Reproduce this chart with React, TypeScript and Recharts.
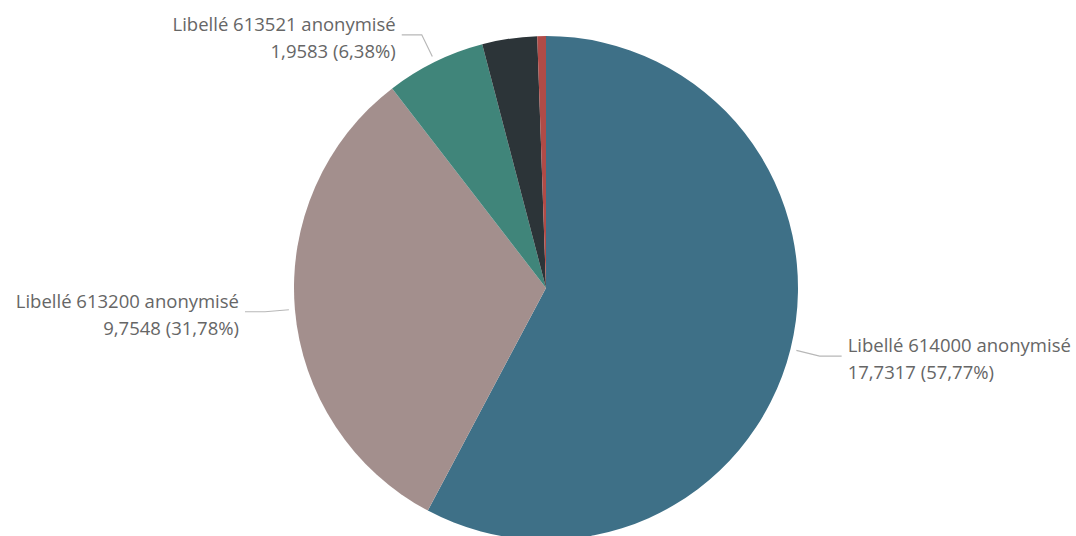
import React from "react";
import { PieChart, Pie, Cell } from "recharts";

const labels = [
  "Libellé 614000 anonymisé",
  "Libellé 613200 anonymisé",
  "Libellé 613521 anonymisé",
  "Libellé 613100 anonymisé",
  "Libellé 613300 anonymisé",
];
const values = [17.7317, 9.7548, 1.9583, 1.08, 0.17];
const colors = ["#3E7087", "#A38F8D", "#40857A", "#2C3438", "#B04B47"];

const data = labels.map((name, i) => ({ name, value: values[i] }));

const RAD = Math.PI / 180;
const fmt = (v: number, d: number) => v.toFixed(d).replace(".", ",");

function renderLabel(props: any) {
  const { cx, cy, midAngle, outerRadius, percent, name, value } = props;
  if (percent < 0.05) return null;
  const cos = Math.cos(-midAngle * RAD);
  const sin = Math.sin(-midAngle * RAD);
  const sx = cx + (outerRadius + 6) * cos;
  const sy = cy + (outerRadius + 6) * sin;
  const mx = cx + (outerRadius + 30) * cos;
  const my = cy + (outerRadius + 30) * sin;
  const right = cos >= 0;
  const ex = mx + (right ? 22 : -20);
  const tx = ex + (right ? 6 : -6);
  const anchor = right ? "start" : "end";
  return (
    <g>
      <polyline
        points={`${sx},${sy} ${mx},${my} ${ex},${my}`}
        fill="none"
        stroke="#B8B8B8"
        strokeWidth={1.2}
      />
      <text
        x={tx}
        y={my - 4}
        textAnchor={anchor}
        fill="#666666"
        fontSize={18.5}
        fontFamily="'Open Sans', sans-serif"
      >
        {name}
      </text>
      <text
        x={tx}
        y={my + 23}
        textAnchor={anchor}
        fill="#666666"
        fontSize={18.5}
        fontFamily="'Open Sans', sans-serif"
      >
        {`${fmt(value, 4)} (${fmt(percent * 100, 2)}%)`}
      </text>
    </g>
  );
}

export default function App() {
  return (
    <div style={{ position: "absolute", left: 0, top: 0, width: 1076, height: 536, background: "#fff" }}>
      <PieChart width={1076} height={536} margin={{ top: 0, right: 0, bottom: 0, left: 0 }}>
        <Pie
          data={data}
          dataKey="value"
          nameKey="name"
          cx={546}
          cy={288}
          outerRadius={252}
          startAngle={90}
          endAngle={-270}
          stroke="none"
          label={renderLabel}
          labelLine={false}
          isAnimationActive={false}
        >
          {data.map((d, i) => (
            <Cell key={d.name} fill={colors[i]} />
          ))}
        </Pie>
      </PieChart>
    </div>
  );
}
